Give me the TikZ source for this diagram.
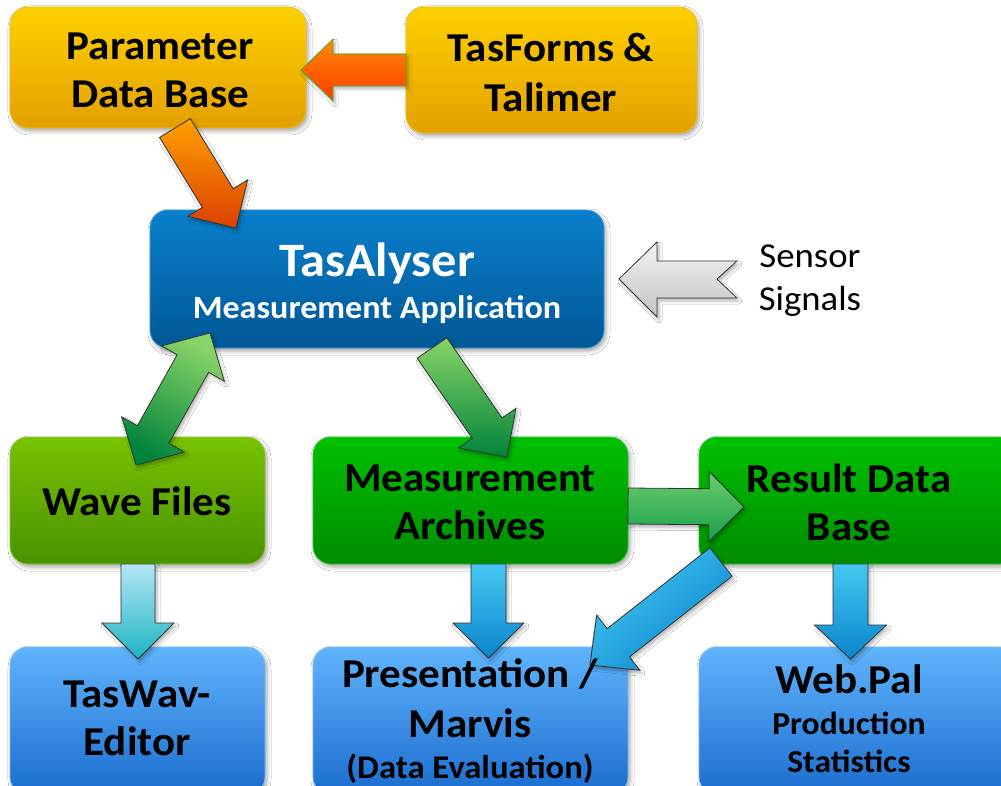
\documentclass[tikz,border=0pt]{standalone}
\usepackage{fontspec}
\setmainfont{Carlito}[FakeStretch=1.05]
\usetikzlibrary{calc,shadows.blur}

\definecolor{orT}{HTML}{FFD000}
\definecolor{orB}{HTML}{E3A000}
\definecolor{orL}{HTML}{F2BE10}
\definecolor{taT}{HTML}{0A7FCC}
\definecolor{taB}{HTML}{005896}
\definecolor{wvT}{HTML}{78C200}
\definecolor{wvB}{HTML}{4A9200}
\definecolor{gnT}{HTML}{00C000}
\definecolor{gnB}{HTML}{008C00}
\definecolor{blT}{HTML}{60B4FC}
\definecolor{blB}{HTML}{1A6CCE}
\definecolor{arO1}{HTML}{FFA000}
\definecolor{arO2}{HTML}{DC4000}
\definecolor{arR1}{HTML}{FF8A00}
\definecolor{arR2}{HTML}{FF3A00}
\definecolor{agT}{HTML}{88D468}
\definecolor{agB}{HTML}{00843A}
\definecolor{ahT}{HTML}{6CCC6C}
\definecolor{ahB}{HTML}{18A04C}
\definecolor{abT}{HTML}{44C8F2}
\definecolor{abB}{HTML}{0A84CC}
\definecolor{acT}{HTML}{B4E6F6}
\definecolor{acB}{HTML}{1CB4C2}
\definecolor{sgT}{HTML}{F4F4F4}
\definecolor{sgB}{HTML}{C2C2C2}

% #1 style, #2 start, #3 tip, #4 shaft half width, #5 head half width, #6 head length
\newcommand\blockarrow[6]{%
  \coordinate (hbX) at ($(#3)!#6!(#2)$);
  \path[#1] ($(#2)!#4!90:(#3)$) -- ($(hbX)!#4!90:(#3)$) -- ($(hbX)!#5!90:(#3)$)
    -- (#3) -- ($(hbX)!#5!-90:(#3)$) -- ($(hbX)!#4!-90:(#3)$) -- ($(#2)!#4!-90:(#3)$) -- cycle;}
% double headed
\newcommand\dblarrow[6]{%
  \coordinate (hbA) at ($(#3)!#6!(#2)$);
  \coordinate (hbB) at ($(#2)!#6!(#3)$);
  \path[#1] (#2) -- ($(hbB)!#5!90:(#3)$) -- ($(hbB)!#4!90:(#3)$) -- ($(hbA)!#4!90:(#3)$)
    -- ($(hbA)!#5!90:(#3)$) -- (#3) -- ($(hbA)!#5!-90:(#3)$) -- ($(hbA)!#4!-90:(#3)$)
    -- ($(hbB)!#4!-90:(#3)$) -- ($(hbB)!#5!-90:(#3)$) -- cycle;}

\tikzset{
  box/.style={rectangle, rounded corners=18pt, inner sep=0pt, line width=0.8pt,
    blur shadow={shadow xshift=2pt, shadow yshift=-3pt, shadow blur radius=4pt, shadow opacity=35}},
  obox/.style={box, top color=orT, bottom color=orB, draw=orL},
  tbox/.style={box, top color=taT, bottom color=taB, draw=taT!80!white},
  wbox/.style={box, top color=wvT, bottom color=wvB, draw=wvT!85!white},
  gbox/.style={box, top color=gnT, bottom color=gnB, draw=gnT!85!white},
  bbox/.style={box, top color=blT, bottom color=blB, draw=blT!85!white},
  txt/.style={align=center, font=\bfseries\fontsize{41}{48}\selectfont, inner sep=0pt},
  stxt/.style={align=center, font=\bfseries\fontsize{32}{38}\selectfont, inner sep=0pt},
  arr/.style={draw=black!80, line width=0.8pt, line join=miter,
    blur shadow={shadow xshift=2pt, shadow yshift=-3pt, shadow blur radius=3pt, shadow opacity=30}},
}

\begin{document}
\begin{tikzpicture}[x=1pt,y=-1pt]
\useasboundingbox (0,0) rectangle (1001,786);
\clip (0,0) rectangle (1001,786);
\fill[white] (0,0) rectangle (1001,786);

% boxes
\node[obox, minimum width=296pt, minimum height=121pt] (pdb) at (158,67.5) {};
\node[obox, minimum width=291pt, minimum height=126pt] (tfm) at (551.5,70) {};
\node[tbox, minimum width=454pt, minimum height=138pt] (tas) at (377,279) {};
\node[wbox, minimum width=255pt, minimum height=127pt] (wav) at (137.5,500.5) {};
\node[gbox, minimum width=315pt, minimum height=127pt] (mar) at (470.5,500.5) {};
\node[gbox, minimum width=318pt, minimum height=127pt] (rdb) at (858,500.5) {};
\node[bbox, minimum width=255pt, minimum height=148pt] (twe) at (137.5,721) {};
\node[bbox, minimum width=315pt, minimum height=148pt] (pre) at (470.5,721) {};
\node[bbox, minimum width=318pt, minimum height=148pt] (web) at (858,721) {};

% arrow end points
\coordinate (a1s) at (406,70);  \coordinate (a1e) at (301,70);
\coordinate (a2s) at (175,128); \coordinate (a2e) at (236,228);
\coordinate (a3s) at (136,465); \coordinate (a3e) at (210,333);
\coordinate (a4s) at (432,348); \coordinate (a4e) at (507,457);
\coordinate (a6s) at (628,506); \coordinate (a6e) at (744,507);
\coordinate (a7s) at (721,562); \coordinate (a7e) at (590,665);
\coordinate (a8s) at (138,564); \coordinate (a8e) at (138,659);
\coordinate (a9s) at (488.5,564); \coordinate (a9e) at (488.5,658);
\coordinate (a10s) at (850.5,564); \coordinate (a10e) at (850.5,659);

% arrows
\blockarrow{arr, top color=arR1, bottom color=arR2, draw={rgb,255:red,70;green,175;blue,50}}{a1s}{a1e}{16pt}{31pt}{32pt}
\blockarrow{arr, top color=arO1, bottom color=arO2}{a2s}{a2e}{18pt}{35pt}{35pt}
\dblarrow{arr, top color=agT, bottom color=agB, shading angle=-30}{a3s}{a3e}{18pt}{36pt}{35pt}
\blockarrow{arr, top color=agT, bottom color=agB}{a4s}{a4e}{18pt}{35pt}{35pt}
\blockarrow{arr, top color=ahT, bottom color=ahB}{a6s}{a6e}{18pt}{35pt}{35pt}
\blockarrow{arr, top color=abT, bottom color=abB, shading angle=40}{a7s}{a7e}{18pt}{35pt}{36pt}
\blockarrow{arr, top color=acT, bottom color=acB}{a8s}{a8e}{17pt}{36pt}{36pt}
\blockarrow{arr, top color=abT, bottom color=abB}{a9s}{a9e}{17.5pt}{35.5pt}{35pt}
\blockarrow{arr, top color=abT, bottom color=abB}{a10s}{a10e}{17.5pt}{36pt}{34pt}

% sensor arrow
\coordinate (sgTip) at (619,279);
\path[arr, top color=sgT, bottom color=sgB] (sgTip) -- (657,242) -- (657,261) -- (737,261)
  -- (717,279) -- (737,298) -- (657,298) -- (657,317) -- cycle;

% texts
\node[txt] (pdbT) at (160,70) {Parameter\\Data Base};
\node[txt] (tfmT) at (551,72) {TasForms \&\\[2pt]Talimer};
\node[txt, text=white, font=\bfseries\fontsize{48}{48}\selectfont] (tasT1) at (377,263) {TasAlyser};
\node[txt, text=white, font=\bfseries\fontsize{32.5}{34}\selectfont] (tasT2) at (377,310) {Measurement Application};
\node[align=center, inner sep=0pt, font=\fontsize{35}{43}\selectfont] (sens) at (810,281) {Sensor\\Signals};
\node[txt] (wavT) at (137,501) {Wave Files};
\node[txt] (marT) at (470,502) {Measurement\\Archives};
\node[txt] (rdbT) at (849,502) {Result Data\\Base};
\node[txt] (tweT) at (137,718) {TasWav-\\Editor};
\node[txt] (preT1) at (470,698) {Presentation /\\[2pt]Marvis};
\node[stxt, font=\bfseries\fontsize{33}{36}\selectfont] (preT2) at (470,769) {(Data Evaluation)};
\node[txt] (webT1) at (849,679) {Web.Pal};
\node[stxt] (webT2) at (849,742) {Production\\Statistics};
\end{tikzpicture}
\end{document}
